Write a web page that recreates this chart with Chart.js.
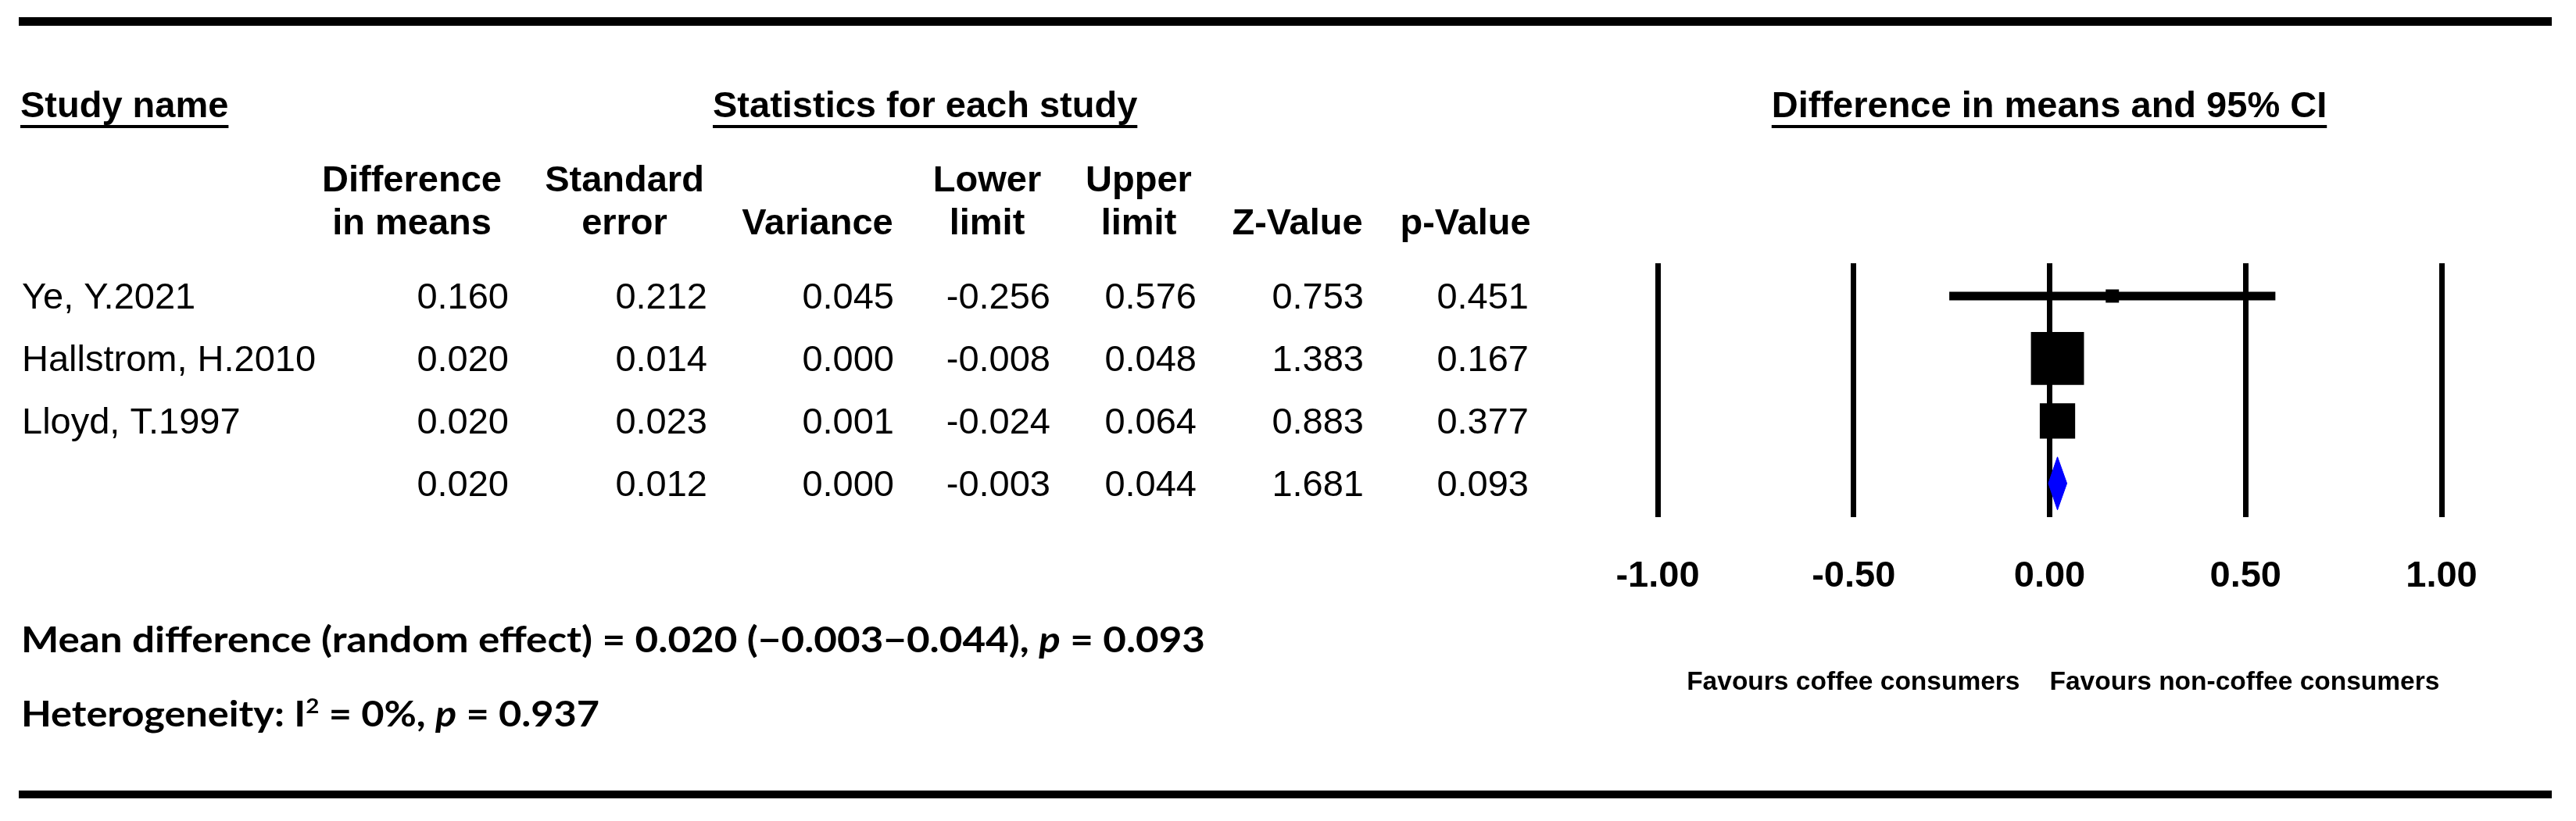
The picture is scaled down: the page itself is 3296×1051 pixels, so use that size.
<!DOCTYPE html>
<html>
<head>
<meta charset="utf-8">
<script src="https://cdn.jsdelivr.net/npm/chart.js@4.4.1/dist/chart.umd.min.js"></script>
<style>
  html, body { margin: 0; padding: 0; background: #ffffff; }
  canvas { display: block; }
</style>
</head>
<body>
<canvas id="forest" width="3296" height="1051" style="width:3296px;height:1051px"></canvas>
<script>
// ---------------- DATA ----------------
const studyNames   = ['Ye, Y.2021', 'Hallstrom, H.2010', 'Lloyd, T.1997', ''];
const diffInMeans  = [0.160, 0.020, 0.020, 0.020];
const standardErr  = [0.212, 0.014, 0.023, 0.012];
const varianceVals = [0.045, 0.000, 0.001, 0.000];
const lowerLimits  = [-0.256, -0.008, -0.024, -0.003];
const upperLimits  = [0.576, 0.048, 0.064, 0.044];
const zValues      = [0.753, 1.383, 0.883, 1.681];
const pValues      = [0.451, 0.167, 0.377, 0.093];
const pooledIndex  = 3;   // last row is the pooled (random effect) estimate

const tickValues = [-1, -0.5, 0, 0.5, 1];
const tickLabels = ['-1.00', '-0.50', '0.00', '0.50', '1.00'];

const columnHeaders = [
  ['Difference', 'in means'],
  ['Standard', 'error'],
  ['', 'Variance'],
  ['Lower', 'limit'],
  ['Upper', 'limit'],
  ['', 'Z-Value'],
  ['', 'p-Value']
];
const sectionTitles = ['Study name', 'Statistics for each study', 'Difference in means and 95% CI'];
const favoursLabels = ['Favours coffee consumers', 'Favours non-coffee consumers'];
const summaryNote = [
  { t: 'Mean difference (random effect) = 0.020 (\u22120.003\u22120.044), ' },
  { t: 'p', italic: true },
  { t: ' = 0.093' }
];
const heterogeneityNote = [
  { t: 'Heterogeneity: I' },
  { t: '2', sup: true },
  { t: ' = 0%, ' },
  { t: 'p', italic: true },
  { t: ' = 0.937' }
];

// ---------------- STYLE / LAYOUT ----------------
const SANS = '"Liberation Sans", Arial, Helvetica, sans-serif';
const NOTE_FONT = 'Lato, "Open Sans", sans-serif';
const colRight  = [651, 905, 1144, 1344, 1531, 1745, 1956];
const colCenter = [527, 799, 1046, 1263, 1457, 1660, 1875];
const boxRadius = [12, 48, 32];      // square marker radii (study weights)
const DIAMOND_HALF = 0.425;          // half-height of pooled diamond in row units

const numericCols = [diffInMeans, standardErr, varianceVals, lowerLimits, upperLimits, zValues, pValues];

// ---------------- DATASETS ----------------
const studyRows = studyNames.map((_, i) => i).filter(i => i !== pooledIndex);

const squareData = studyRows.map(i => ({ x: diffInMeans[i], y: i }));
const ciDatasets = studyRows.map(i => ({
  type: 'scatter',
  data: [{ x: lowerLimits[i], y: i }, { x: upperLimits[i], y: i }],
  showLine: true,
  borderColor: '#000000',
  borderWidth: 11,
  borderCapStyle: 'butt',
  pointRadius: 0,
  order: 3
}));
const p = pooledIndex;
const diamondData = [
  { x: lowerLimits[p], y: p },
  { x: diffInMeans[p], y: p - DIAMOND_HALF },
  { x: upperLimits[p], y: p },
  { x: diffInMeans[p], y: p + DIAMOND_HALF },
  { x: lowerLimits[p], y: p }
];

function fmt(v) {
  return v.toFixed(3);
}

function drawRich(ctx, segs, x, y, size, family, targetW) {
  const fontFor = s => `${s.italic ? 'italic ' : ''}bold ${s.sup ? Math.round(size * 0.58) : size}px ${family}`;
  let total = 0;
  const widths = segs.map(s => { ctx.font = fontFor(s); const w = ctx.measureText(s.t).width; total += w; return w; });
  const sx = targetW / total;
  ctx.save();
  ctx.translate(x, y);
  ctx.scale(sx, 1);
  ctx.textAlign = 'left';
  ctx.textBaseline = 'alphabetic';
  let cx = 0;
  segs.forEach((s, k) => {
    ctx.font = fontFor(s);
    ctx.fillText(s.t, cx, s.sup ? -size * 0.36 : 0);
    cx += widths[k];
  });
  ctx.restore();
}

const tablePlugin = {
  id: 'forestTable',
  afterDraw(chart) {
    const ctx = chart.ctx;
    const ys = chart.scales.y;
    ctx.save();
    ctx.fillStyle = '#000000';

    // horizontal rules
    ctx.fillRect(24, 22, 3241, 11);
    ctx.fillRect(24, 1012, 3241, 10);

    // section titles (bold, underlined)
    ctx.font = `bold 47px ${SANS}`;
    ctx.textBaseline = 'alphabetic';
    const titleX = [26, 912, 2622];
    const titleAlign = ['left', 'left', 'center'];
    sectionTitles.forEach((t, k) => {
      ctx.textAlign = titleAlign[k];
      ctx.fillText(t, titleX[k], 150);
      const w = ctx.measureText(t).width;
      const left = titleAlign[k] === 'center' ? titleX[k] - w / 2 : titleX[k];
      ctx.fillRect(left, 160, w, 4);
    });

    // column headers
    ctx.textAlign = 'center';
    columnHeaders.forEach((lines, k) => {
      if (lines[0]) ctx.fillText(lines[0], colCenter[k], 245);
      if (lines[1]) ctx.fillText(lines[1], colCenter[k], 300);
    });

    // rows
    ctx.font = `47px ${SANS}`;
    studyNames.forEach((name, i) => {
      const yb = ys.getPixelForValue(i) + 16;
      ctx.textAlign = 'left';
      if (name) ctx.fillText(name, 28, yb);
      ctx.textAlign = 'right';
      numericCols.forEach((col, k) => ctx.fillText(fmt(col[i]), colRight[k], yb));
    });

    // favours labels
    ctx.font = `bold 33.5px ${SANS}`;
    const zeroX = chart.scales.x.getPixelForValue(0);
    ctx.textAlign = 'right';
    ctx.fillText(favoursLabels[0], zeroX - 38, 883);
    ctx.textAlign = 'left';
    ctx.fillText(favoursLabels[1], zeroX, 883);

    // notes
    drawRich(ctx, summaryNote, 27, 835, 46, NOTE_FONT, 1515);
    drawRich(ctx, heterogeneityNote, 27, 930, 46, NOTE_FONT, 740);

    ctx.restore();
  }
};

const X_AXIS_H = 100;
new Chart(document.getElementById('forest'), {
  type: 'scatter',
  data: {
    datasets: [
      {
        type: 'scatter',
        data: squareData,
        pointStyle: 'rect',
        pointRadius: boxRadius,
        pointHoverRadius: boxRadius,
        backgroundColor: '#000000',
        borderWidth: 0,
        order: 1
      },
      {
        type: 'scatter',
        data: diamondData,
        showLine: true,
        fill: 'shape',
        backgroundColor: '#0000ff',
        borderColor: '#0000ff',
        borderWidth: 1,
        pointRadius: 0,
        tension: 0,
        order: 2
      },
      ...ciDatasets
    ]
  },
  options: {
    responsive: false,
    devicePixelRatio: 1,
    animation: false,
    events: [],
    layout: { padding: { left: 2121, right: 3296 - 3124, top: 337, bottom: 1051 - 662 - X_AXIS_H } },
    plugins: { legend: { display: false }, tooltip: { enabled: false }, title: { display: false } },
    scales: {
      x: {
        type: 'linear',
        min: -1,
        max: 1,
        afterBuildTicks: s => { s.ticks = tickValues.map(v => ({ value: v })); },
        afterFit: s => { s.height = X_AXIS_H; },
        ticks: {
          autoSkip: false,
          maxRotation: 0,
          padding: 48,
          color: '#000000',
          font: { family: SANS, size: 47, weight: 'bold' },
          callback: (v, i) => tickLabels[i]
        },
        grid: { color: '#000000', lineWidth: 7, drawTicks: false, drawOnChartArea: true },
        border: { display: false }
      },
      y: {
        type: 'linear',
        display: false,
        reverse: true,
        min: -0.525,
        max: 3.54
      }
    }
  },
  plugins: [tablePlugin]
});
</script>
</body>
</html>
